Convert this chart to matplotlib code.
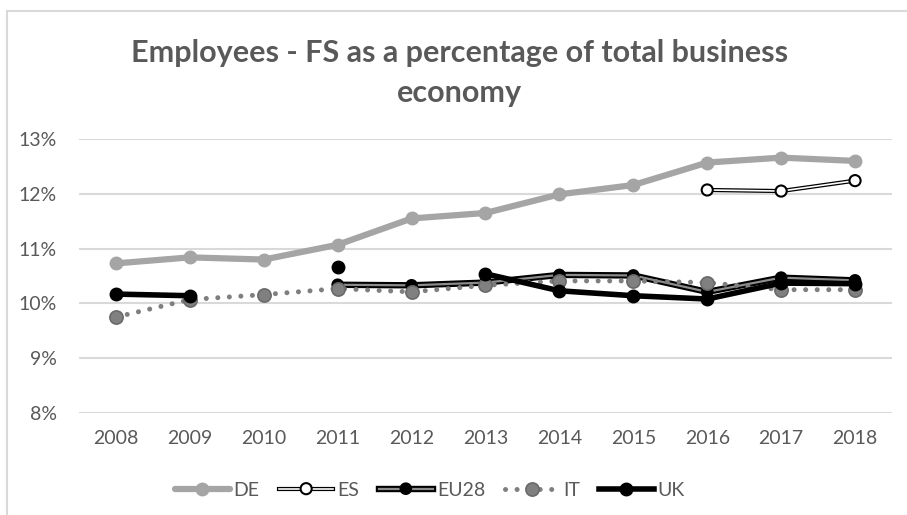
import numpy as np
import matplotlib
matplotlib.use("Agg")
import matplotlib.pyplot as plt
import matplotlib.patheffects as pe
from matplotlib.ticker import FuncFormatter
from matplotlib.patches import Rectangle

plt.rcParams["font.family"] = ["Lato", "DejaVu Sans"]

# Share of employees in financial services, % of total business economy
years = ["2008", "2009", "2010", "2011", "2012", "2013", "2014", "2015", "2016", "2017", "2018"]
de = [10.73, 10.84, 10.80, 11.07, 11.55, 11.65, 11.99, 12.16, 12.57, 12.66, 12.60]
es = [np.nan, np.nan, np.nan, np.nan, np.nan, np.nan, np.nan, np.nan, 12.07, 12.05, 12.24]
eu28 = [np.nan, np.nan, np.nan, 10.34, 10.33, 10.38, 10.52, 10.51, 10.21, 10.47, 10.42]
it = [9.75, 10.07, 10.16, 10.27, 10.21, 10.33, 10.41, 10.41, 10.38, 10.25, 10.25]
uk = [10.17, 10.14, np.nan, 10.67, np.nan, 10.54, 10.23, 10.14, 10.08, 10.37, 10.36]

text_grey = "#595959"
x = np.arange(len(years))

fig = plt.figure(figsize=(9.07, 5.15), dpi=100)
ax = fig.add_axes([79 / 907, 1 - 413 / 515, 813 / 907, 274 / 515])

ax.plot(x, de, color="#A5A5A5", lw=4.5, marker="o", ms=9, label="DE", zorder=3,
        solid_capstyle="round")
# double lines: a black stroke under a thinner inner line
ax.plot(x, es, color="white", lw=1.2, marker="o", ms=6.5, mfc="white", mew=0,
        label="ES", zorder=4,
        path_effects=[pe.Stroke(linewidth=3.0, foreground="black"), pe.Normal()])
ax.plot(x, eu28, color="#8C8C8C", lw=1.6, marker="o", ms=4.5, mfc="black", mew=0,
        label="EU28", zorder=5,
        path_effects=[pe.Stroke(linewidth=4.6, foreground="black"), pe.Normal()])
ax.plot(x, it, color="#7F7F7F", lw=3.6, ls=(0, (0.01, 2.3)), dash_capstyle="round",
        marker="o", ms=9.5, mfc="#808080", mec="#6A6A6A", mew=1.2, label="IT", zorder=6)
ax.plot(x, uk, color="black", lw=4, marker="o", ms=9, label="UK", zorder=7)

ax.set_xlim(-0.5, len(years) - 0.5)
ax.set_ylim(8, 13)
ax.set_yticks(np.arange(8, 13.5, 1))
ax.yaxis.set_major_formatter(FuncFormatter(lambda v, _: f"{v:.0f}%"))
ax.set_xticks(x)
ax.set_xticklabels(years)
ax.tick_params(length=0, labelsize=14, labelcolor=text_grey, pad=12)
ax.tick_params(axis="y", pad=16)
ax.grid(axis="y", color="#D9D9D9", lw=1.5)
ax.set_axisbelow(True)
for s in ax.spines.values():
    s.set_visible(False)

fig.text(0.507, 1 - 73 / 515, "Employees - FS as a percentage of total business\neconomy",
         ha="center", va="center", fontsize=22, color=text_grey, linespacing=1.5,
         fontweight="bold")

fig.legend(loc="center", bbox_to_anchor=(430 / 907, 1 - 490 / 515), ncol=5, frameon=False,
           fontsize=14, labelcolor=text_grey, handlelength=2.8, handletextpad=0.2,
           columnspacing=1.0)

# light frame around the chart area
fig.patches.append(Rectangle((7 / 907, -0.1), 1.0, 1 - 11 / 515 + 0.1,
                             transform=fig.transFigure, fill=False,
                             edgecolor="#D9D9D9", lw=1.5))

fig.savefig("out.png", dpi=100)
